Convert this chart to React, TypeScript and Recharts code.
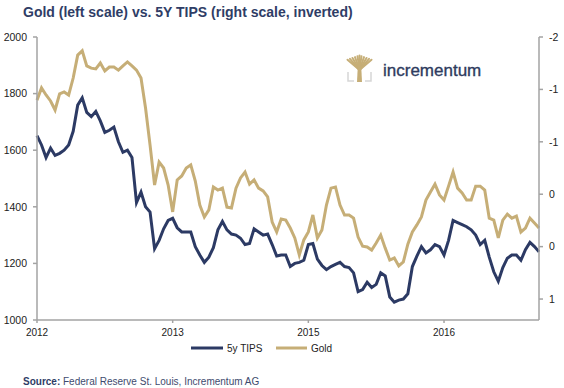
import { Line, LineChart, XAxis, YAxis } from "recharts";

const FONT = "'Liberation Sans', Arial, Helvetica, sans-serif";
const NAVY = "#2c3a64";
const GOLD = "#c6ae77";
const AXIS_GREY = "#a3a3a3";

// weekly-ish samples, early 2012 -> late 2016
const goldPrice = [
  1777, 1820, 1795, 1774, 1742, 1799, 1806, 1795, 1855, 1936,
  1951, 1898, 1890, 1887, 1908, 1880, 1894, 1894, 1883, 1898,
  1912, 1898, 1883, 1855, 1749, 1618, 1477, 1558, 1537, 1477,
  1382, 1495, 1509, 1537, 1548, 1491, 1406, 1364, 1389, 1470,
  1459, 1466, 1399, 1396, 1466, 1502, 1523, 1480, 1495, 1466,
  1456, 1435, 1346, 1311, 1357, 1353, 1325, 1290, 1230, 1283,
  1311, 1371, 1290, 1318, 1406, 1466, 1470, 1406, 1371, 1371,
  1360, 1293, 1261, 1258, 1247, 1272, 1300, 1254, 1212, 1219,
  1191, 1205, 1268, 1311, 1336, 1364, 1424, 1452, 1480, 1442,
  1424, 1473, 1523, 1466, 1449, 1424, 1424, 1473, 1473, 1459,
  1360, 1353, 1290, 1353, 1374, 1360, 1367, 1311, 1325, 1360,
  1343, 1325,
];

const tips5y = [
  -0.86, -0.77, -0.65, -0.74, -0.67, -0.69, -0.72, -0.77, -0.9, -1.15,
  -1.22, -1.08, -1.04, -1.09, -1.0, -0.89, -0.91, -0.94, -0.8, -0.7,
  -0.72, -0.65, -0.22, -0.32, -0.18, -0.13, 0.22, 0.14, 0.03, -0.05,
  -0.07, 0.02, 0.06, 0.06, 0.06, 0.2, 0.28, 0.35, 0.3, 0.21,
  0.04, -0.04, 0.04, 0.08, 0.09, 0.12, 0.18, 0.17, 0.03, 0.06,
  0.09, 0.08, 0.18, 0.29, 0.28, 0.28, 0.39, 0.36, 0.35, 0.33,
  0.18, 0.17, 0.32, 0.38, 0.42, 0.39, 0.37, 0.35, 0.39, 0.4,
  0.45, 0.63, 0.61, 0.54, 0.59, 0.56, 0.45, 0.48, 0.68, 0.73,
  0.71, 0.7, 0.65, 0.39, 0.29, 0.2, 0.26, 0.23, 0.18, 0.2,
  0.28, 0.14, -0.05, -0.03, -0.01, 0.01, 0.04, 0.09, 0.18, 0.14,
  0.3, 0.44, 0.53, 0.4, 0.31, 0.28, 0.28, 0.33, 0.23, 0.16,
  0.2, 0.25,
];

const xTickIndex = [0, 30, 60, 90];
const xTickLabels = ["2012", "2013", "2015", "2016"];
const goldTicks = [1000, 1200, 1400, 1600, 1800, 2000];
const tipsTicks = [-1.8, -1.3, -0.8, -0.3, 0.2, 0.7];

const data = goldPrice.map((g, i) => ({ i, gold: g, tips: tips5y[i] }));

const tickStyle = { fontSize: 10.5, fill: "#222", fontFamily: FONT };

function Overlay() {
  const branches = [-12, -9.5, -7, -4.5, -2, 0, 2, 4.5, 7, 9.5, 12];
  return (
    <svg width={564} height={388} style={{ position: "absolute", left: 0, top: 0, pointerEvents: "none" }}>
      <text x={23} y={17} fontSize={14} fontWeight="bold" fill="#2f3d66" fontFamily={FONT}>
        Gold (left scale) vs. 5Y TIPS (right scale, inverted)
      </text>

      {/* logo */}
      <g stroke={GOLD} strokeWidth={2} strokeLinecap="round">
        {branches.map((dx) => (
          <line key={dx} x1={359.5} y1={70} x2={359.5 + dx} y2={55.5 + Math.abs(dx) * 0.35} />
        ))}
      </g>
      <path d="M357 82 L357.8 66 L361.2 66 L362 82 Z" fill={GOLD} />
      <path d="M348 72 V81 H354" stroke="#d6d6d6" strokeWidth={1.5} fill="none" />
      <path d="M371 72 V81 H365" stroke="#d6d6d6" strokeWidth={1.5} fill="none" />
      <text x={383} y={75.5} fontSize={17} fill="#2e3b5e" stroke="#2e3b5e" strokeWidth={0.35} fontFamily={FONT}>
        incrementum
      </text>

      {/* legend */}
      <line x1={191} y1={348} x2={223} y2={348} stroke={NAVY} strokeWidth={3} />
      <text x={227} y={351.5} fontSize={10} fill="#222" fontFamily={FONT}>
        5y TIPS
      </text>
      <line x1={276} y1={348} x2={307} y2={348} stroke={GOLD} strokeWidth={3} />
      <text x={311} y={351.5} fontSize={10} fill="#222" fontFamily={FONT}>
        Gold
      </text>

      <text x={23} y={385} fontSize={10} fill="#3e4b6e" fontFamily={FONT}>
        <tspan fontWeight="bold" fill="#2f3d66">Source:</tspan> Federal Reserve St. Louis, Incrementum AG
      </text>
    </svg>
  );
}

export default function App() {
  return (
    <div style={{ position: "absolute", left: 0, top: 0, width: 564, height: 388, background: "#fff", fontFamily: FONT }}>
      <LineChart width={564} height={388} data={data} margin={{ top: 37, right: 0, left: 0, bottom: 38 }}>
        <XAxis
          dataKey="i"
          type="number"
          domain={[0, goldPrice.length - 1]}
          ticks={xTickIndex}
          tickFormatter={(v) => xTickLabels[xTickIndex.indexOf(v)] ?? ""}
          tick={{ ...tickStyle, fontSize: 10 }}
          stroke={AXIS_GREY}
          strokeWidth={1.5}
          tickSize={3}
          tickMargin={6}
          height={30}
        />
        <YAxis
          yAxisId="left"
          domain={[1000, 2000]}
          ticks={goldTicks}
          tick={tickStyle}
          stroke={AXIS_GREY}
          strokeWidth={1.5}
          tickSize={4}
          tickMargin={6}
          width={37}
        />
        <YAxis
          yAxisId="right"
          orientation="right"
          reversed
          domain={[-1.8, 0.9]}
          ticks={tipsTicks}
          tickFormatter={(v) => String(Math.round(v) || 0)}
          tick={tickStyle}
          stroke={AXIS_GREY}
          strokeWidth={1.5}
          tickSize={4}
          tickMargin={6}
          width={25}
        />
        <Line yAxisId="right" dataKey="tips" stroke={NAVY} strokeWidth={3} dot={false} isAnimationActive={false} />
        <Line yAxisId="left" dataKey="gold" stroke={GOLD} strokeWidth={3} dot={false} isAnimationActive={false} />
      </LineChart>
      <Overlay />
    </div>
  );
}
